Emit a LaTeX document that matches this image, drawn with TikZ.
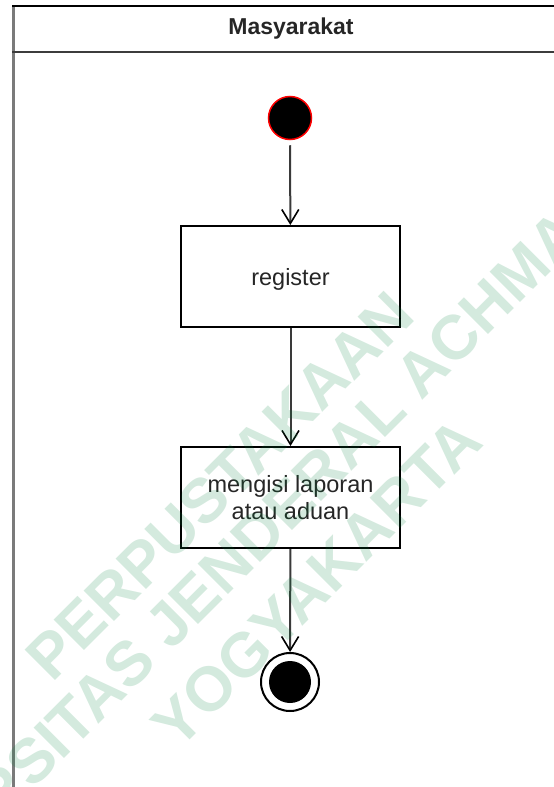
\documentclass[tikz,border=0pt]{standalone}
\usepackage{fontspec}
\setmainfont{Liberation Sans}
\usetikzlibrary{arrows.meta}
\definecolor{lanegray}{HTML}{7A7A7A}
\definecolor{headgray}{HTML}{3C3C3C}
\definecolor{flowgray}{HTML}{3A3A3A}
\definecolor{stampgreen}{RGB}{0,130,60}
\begin{document}
\begin{tikzpicture}[x=1pt,y=-1pt,
  action/.style={draw=black, line width=2pt, fill=white, minimum width=219pt,
    minimum height=101pt, inner sep=0pt, align=center, text depth=0pt,
    font=\fontsize{23.5}{27}\selectfont, text=black!85},
  startnode/.style={circle, fill=black, draw=red, line width=1.5pt,
    minimum size=43pt, inner sep=0pt},
  endring/.style={circle, fill=white, draw=black, line width=2pt,
    minimum size=58pt, inner sep=0pt},
  enddot/.style={circle, fill=black, minimum size=42pt, inner sep=0pt},
  flow/.style={draw=flowgray, line width=2pt,
    -{Straight Barb[length=14pt,width=17pt,line width=1.6pt,color=black]}},
  stamp/.style={text=stampgreen, text opacity=0.17, rotate=45, anchor=base,
    inner sep=0pt, font=\fontsize{62.5}{70}\selectfont\bfseries}
]
\useasboundingbox (0,0) rectangle (554,787);

% swimlane frame
\draw[lanegray, line width=3pt] (13,5) -- (13,787);
\draw[black, line width=2pt] (12,6) -- (560,6);
\draw[headgray, line width=2pt] (12,52) -- (560,52);
\node[font=\fontsize{23}{27}\selectfont\bfseries, text=black!85] (lane) at (291,29) {Masyarakat};

% activity nodes
\node[startnode] (start) at (290,118) {};
\node[action] (reg) at (290.5,276.5) {register};
\node[action] (lapor) at (290.5,497.5) {mengisi laporan\\atau aduan};
\node[endring] (final) at (290,682) {};
\node[enddot] (finaldot) at (final.center) {};

% control flow
\draw[flow, shorten <=5pt] (start) -- (reg);
\draw[flow] (reg) -- (lapor);
\draw[flow] (lapor) -- (final);

% library stamp
\node[stamp] (stampa) at (234.8,500.7) {PERPUSTAKAAN};
\node[stamp] (stampb) at (298.6,524.5) {UNIVERSITAS JENDERAL ACHMAD YANI};
\node[stamp] (stampc) at (331.7,597.6) {YOGYAKARTA};
\end{tikzpicture}
\end{document}
